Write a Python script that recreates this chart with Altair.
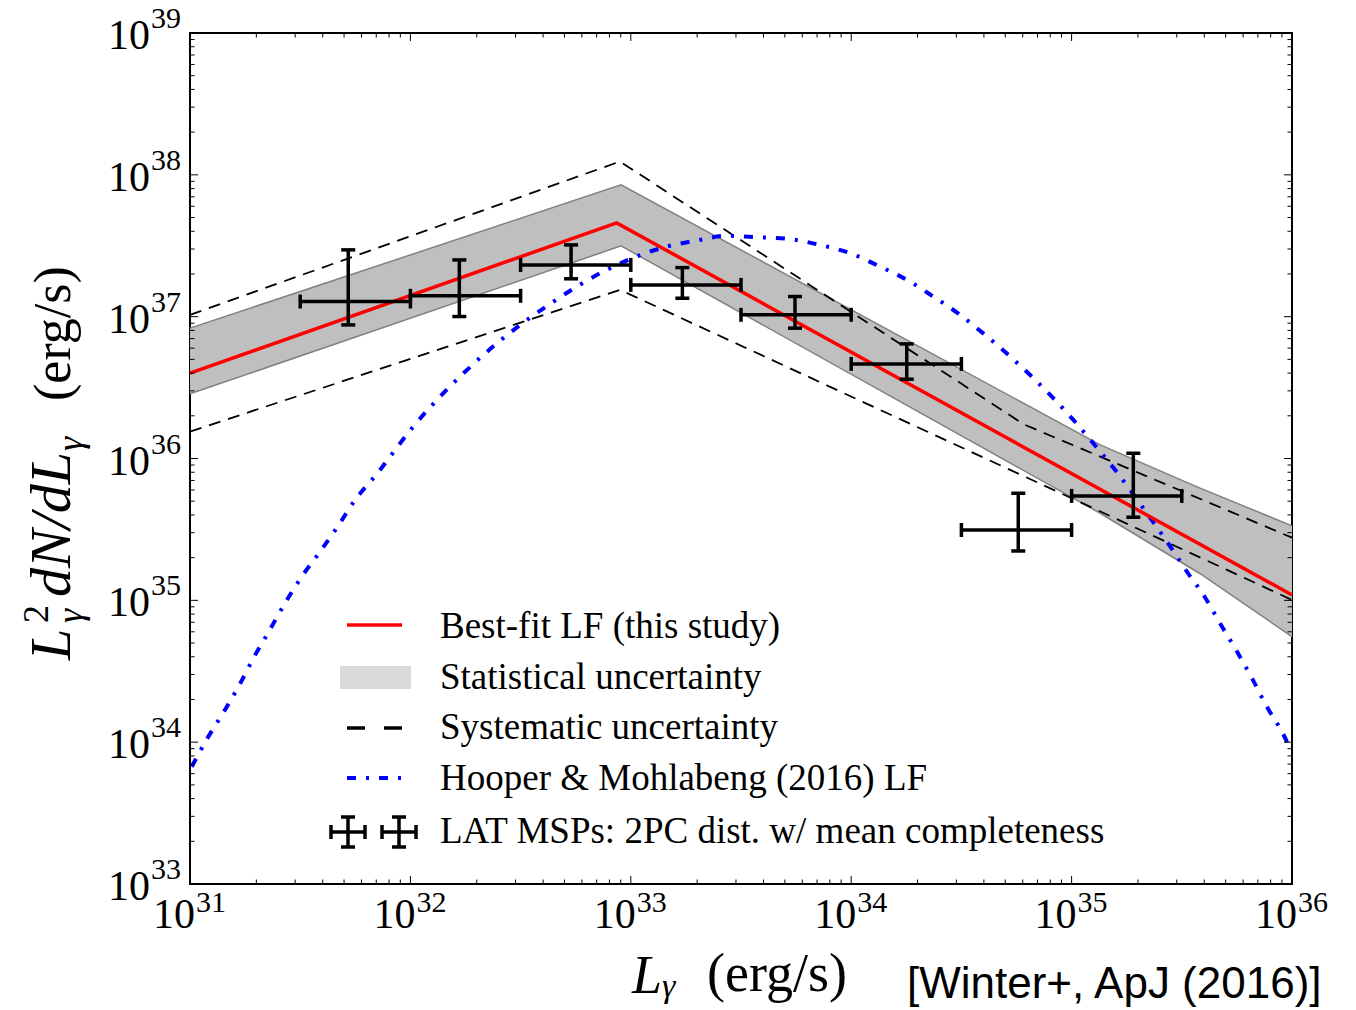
import altair as alt
import pandas as pd

W, H = 1102, 851
SERIF = "Liberation Serif"

# ---------------- data (log10 values) ----------------
fit_logL = [31.0, 32.936, 36.0]
fit_logY = [36.602, 37.661, 35.038]

band_logL = [31.0, 32.956, 35.13, 35.58, 36.0]
band_hi_logY = [36.919, 37.929, 36.096, 35.793, 35.525]
band_lo_logY = [36.456, 37.499, 35.614, 35.191, 34.744]

sys_hi_logL = [31.0, 32.951, 34.784, 36.0]
sys_hi_logY = [37.013, 38.094, 36.240, 35.442]
sys_lo_logL = [31.0, 32.951, 36.0]
sys_lo_logY = [36.190, 37.189, 35.003]

hm_logL = [31.008, 31.076, 31.151, 31.224, 31.290, 31.360, 31.431, 31.507, 31.590,
           31.673, 31.749, 31.844, 32.012, 32.316, 32.647, 32.891, 33.163, 33.299,
           33.435, 33.571, 33.722, 33.858, 33.994, 34.131, 34.252, 34.372, 34.494,
           34.607, 34.713, 34.819, 34.917, 35.008, 35.098, 35.197, 35.363, 35.446,
           35.525, 35.605, 35.676, 35.749, 35.820, 35.886, 35.958, 35.991]
hm_logY = [33.827, 34.020, 34.208, 34.403, 34.599, 34.786, 34.980, 35.167, 35.343,
           35.527, 35.708, 35.884, 36.223, 36.709, 37.104, 37.330, 37.494, 37.537,
           37.570, 37.561, 37.547, 37.506, 37.448, 37.353, 37.260, 37.142, 37.013,
           36.872, 36.731, 36.578, 36.425, 36.272, 36.108, 35.920, 35.567, 35.384,
           35.198, 35.022, 34.831, 34.643, 34.446, 34.250, 34.063, 33.957]

msp_logL = [31.718, 32.222, 32.729, 33.234, 33.745, 34.252, 34.758, 35.280]
msp_logL_lo = [31.5, 32.0, 32.5, 33.0, 33.5, 34.0, 34.5, 35.0]
msp_logL_hi = [32.0, 32.5, 33.0, 33.5, 34.0, 34.5, 35.0, 35.5]
msp_logY = [37.107, 37.147, 37.365, 37.224, 37.013, 36.667, 35.496, 35.736]
msp_logY_lo = [36.942, 37.001, 37.267, 37.130, 36.919, 36.559, 35.348, 35.586]
msp_logY_hi = [37.471, 37.400, 37.506, 37.346, 37.142, 36.808, 35.755, 36.037]

x_tick_exps = ["31", "32", "33", "34", "35", "36"]
y_tick_exps = ["33", "34", "35", "36", "37", "38", "39"]

legend_labels = ["Best-fit LF (this study)", "Statistical uncertainty",
                 "Systematic uncertainty", "Hooper & Mohlabeng (2016) LF",
                 "LAT MSPs: 2PC dist. w/ mean completeness"]
credit = "[Winter+, ApJ (2016)]"


def pw(v):
    return [10.0 ** a for a in v]


fit = pd.DataFrame({"L": pw(fit_logL), "Y": pw(fit_logY)})
band = pd.DataFrame({"L": pw(band_logL), "Hi": pw(band_hi_logY), "Lo": pw(band_lo_logY)})
shi = pd.DataFrame({"L": pw(sys_hi_logL), "Y": pw(sys_hi_logY)})
slo = pd.DataFrame({"L": pw(sys_lo_logL), "Y": pw(sys_lo_logY)})
hm = pd.DataFrame({"L": pw(hm_logL), "Y": pw(hm_logY)})
msp = pd.DataFrame({"L": pw(msp_logL), "Llo": pw(msp_logL_lo), "Lhi": pw(msp_logL_hi),
                    "Y": pw(msp_logY), "Ylo": pw(msp_logY_lo), "Yhi": pw(msp_logY_hi)})
xt = pd.DataFrame({"v": [10.0 ** int(e) for e in x_tick_exps], "e": x_tick_exps, "b": "10"})
yt = pd.DataFrame({"v": [10.0 ** int(e) for e in y_tick_exps], "e": y_tick_exps, "b": "10"})
x_minor = pd.DataFrame({"v": [k * 10.0 ** n for n in range(31, 36) for k in range(2, 10)]})
y_minor = pd.DataFrame({"v": [k * 10.0 ** n for n in range(33, 39) for k in range(2, 10)]})
one = pd.DataFrame({"k": [0]})

xs = alt.Scale(type="log", domain=[1e31, 1e36], nice=False)
ys = alt.Scale(type="log", domain=[1e33, 1e39], nice=False)


def X(f):
    return alt.X(f, type="quantitative", scale=xs, axis=None)


def Y(f):
    return alt.Y(f, type="quantitative", scale=ys, axis=None)


layers = []

# statistical band
layers.append(alt.Chart(band).mark_area(color="#bfbfbf", opacity=1).encode(
    x=X("L"), y=Y("Hi"), y2="Lo"))
for f in ("Hi", "Lo"):
    layers.append(alt.Chart(band).mark_line(color="#808080", strokeWidth=1.5).encode(
        x=X("L"), y=Y(f)))
# systematic
for d in (shi, slo):
    layers.append(alt.Chart(d).mark_line(color="black", strokeWidth=1.8,
                                         strokeDash=[12, 8]).encode(x=X("L"), y=Y("Y")))
# Hooper & Mohlabeng
layers.append(alt.Chart(hm).mark_line(color="#0000ff", strokeWidth=4,
                                      strokeDash=[9, 10, 3, 10],
                                      interpolate="monotone").encode(x=X("L"), y=Y("Y")))
# best fit
layers.append(alt.Chart(fit).mark_line(color="#ff0000", strokeWidth=3.5).encode(
    x=X("L"), y=Y("Y")))
# error bars
EW = 3.5
layers.append(alt.Chart(msp).mark_rule(color="black", strokeWidth=EW).encode(
    x=X("Llo"), x2="Lhi", y=Y("Y")))
layers.append(alt.Chart(msp).mark_rule(color="black", strokeWidth=EW).encode(
    x=X("L"), y=Y("Ylo"), y2="Yhi"))
for f in ("Llo", "Lhi"):
    layers.append(alt.Chart(msp).mark_rule(color="black", strokeWidth=EW,
                                           yOffset=-7, y2Offset=7).encode(
        x=X(f), y=Y("Y"), y2="Y"))
for f in ("Ylo", "Yhi"):
    layers.append(alt.Chart(msp).mark_rule(color="black", strokeWidth=EW,
                                           xOffset=-7, x2Offset=7).encode(
        x=X("L"), x2="L", y=Y(f)))

# ticks (inside, on all four sides)
for d, ln in ((xt, 8), (x_minor, 4.5)):
    layers.append(alt.Chart(d).mark_rule(color="black", strokeWidth=1).encode(
        x=X("v"), y=alt.value(H), y2=alt.value(H - ln)))
    layers.append(alt.Chart(d).mark_rule(color="black", strokeWidth=1).encode(
        x=X("v"), y=alt.value(0), y2=alt.value(ln)))
for d, ln in ((yt, 8), (y_minor, 4.5)):
    layers.append(alt.Chart(d).mark_rule(color="black", strokeWidth=1).encode(
        y=Y("v"), x=alt.value(0), x2=alt.value(ln)))
    layers.append(alt.Chart(d).mark_rule(color="black", strokeWidth=1).encode(
        y=Y("v"), x=alt.value(W - ln), x2=alt.value(W)))

# tick labels
layers.append(alt.Chart(xt).mark_text(font=SERIF, fontSize=42, align="right",
                                      baseline="alphabetic", dx=5).encode(
    x=X("v"), y=alt.value(H + 44), text="b"))
layers.append(alt.Chart(xt).mark_text(font=SERIF, fontSize=30, align="left",
                                      baseline="alphabetic", dx=6).encode(
    x=X("v"), y=alt.value(H + 28), text="e"))
layers.append(alt.Chart(yt).mark_text(font=SERIF, fontSize=42, align="right",
                                      baseline="alphabetic", dy=16).encode(
    y=Y("v"), x=alt.value(-40), text="b"))
layers.append(alt.Chart(yt).mark_text(font=SERIF, fontSize=30, align="left",
                                      baseline="alphabetic", dy=-5).encode(
    y=Y("v"), x=alt.value(-39), text="e"))


def txt(s, x, y, size, style="normal", angle=0, align="left", baseline="alphabetic",
        font=SERIF):
    return alt.Chart(one).mark_text(text=s, font=font, fontSize=size, fontStyle=style,
                                    angle=angle, align=align, baseline=baseline,
                                    color="black").encode(
        x=alt.value(x), y=alt.value(y))


# x title
layers.append(txt("L", 442, 960, 54, "italic"))
layers.append(txt("γ", 472, 964, 34, "italic"))
layers.append(txt("(erg/s)", 517, 958, 54))
layers.append(txt(credit, 717, 965, 44, font="Liberation Sans"))

# y title (rotated)
layers.append(txt("L", -120, 627, 56, "italic", angle=270))
layers.append(txt("2", -142, 590, 36, angle=270))
layers.append(txt("γ", -108, 590, 36, "italic", angle=270))
layers.append(txt("dN/dL", -120, 564, 58, "italic", angle=270))
layers.append(txt("γ", -108, 418, 36, "italic", angle=270))
layers.append(txt("(erg/s)", -120, 368, 52, angle=270))


# legend
def seg(x1, x2, y1, y2, color="black", width=3.5, dash=None):
    kw = dict(color=color, strokeWidth=width)
    if dash:
        kw["strokeDash"] = dash
    return alt.Chart(one).mark_rule(**kw).encode(
        x=alt.value(x1), x2=alt.value(x2), y=alt.value(y1), y2=alt.value(y2))


layers.append(seg(157, 212, 592, 592, "#ff0000", 3.5))
layers.append(alt.Chart(one).mark_rect(color="#d9d9d9").encode(
    x=alt.value(150), x2=alt.value(221), y=alt.value(633), y2=alt.value(656)))
layers.append(seg(157, 212, 695, 695, "black", 3.5, [18, 19]))
layers.append(seg(157, 212, 745, 745, "#0000ff", 4, [9, 10, 3, 10]))
for cx in (158, 209):
    layers.append(seg(cx - 17, cx + 17, 799, 799))
    layers.append(seg(cx, cx, 784, 814))
    layers.append(seg(cx - 17, cx - 17, 792, 806))
    layers.append(seg(cx + 17, cx + 17, 792, 806))
    layers.append(seg(cx - 7, cx + 7, 784, 784))
    layers.append(seg(cx - 7, cx + 7, 814, 814))
for lab, yy in zip(legend_labels, [594, 645, 695, 746, 799]):
    layers.append(txt(lab, 250, yy, 37, baseline="middle"))

chart = alt.layer(*layers).properties(
    width=W, height=H,
    padding={"left": 190, "top": 33, "right": 64, "bottom": 126},
    autosize=alt.AutoSizeParams(type="none"),
    background="white",
).configure_view(stroke="black", strokeWidth=2)

chart.save("out.html", embed_options={"renderer": "svg", "actions": False})
